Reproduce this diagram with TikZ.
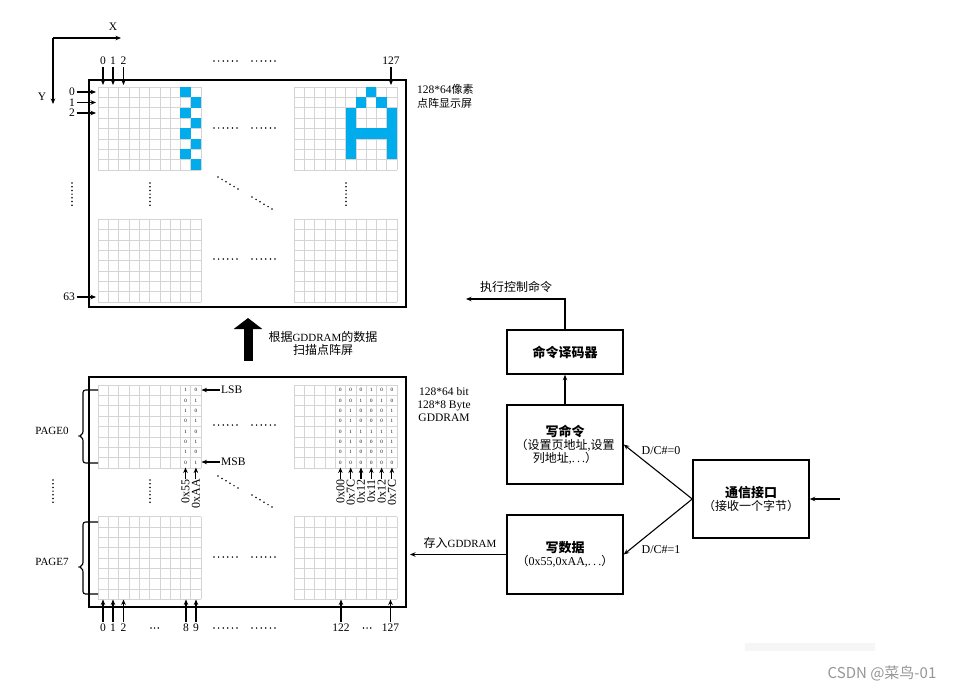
\documentclass[tikz,border=0pt]{standalone}
\usepackage{fontspec}
\setmainfont{Liberation Serif}
\newfontfamily\cjk{Noto Sans CJK SC}
\usetikzlibrary{arrows.meta}
\definecolor{lcdblue}{RGB}{0,172,236}
\definecolor{gridgray}{RGB}{212,212,212}
\definecolor{wmgray}{RGB}{150,150,150}
\newcommand\lcdgrid[2]{%
  \foreach \gi in {0,...,10}{\draw[gridline] (#1+\gi*10.3,#2) -- (#1+\gi*10.3,#2+82.8);}%
  \foreach \gj in {0,...,8}{\draw[gridline] (#1,#2+\gj*10.35) -- (#1+103,#2+\gj*10.35);}}
\newcommand\lcdcell[4]{\fill[lcdblue] (#1+#3*10.3,#2+#4*10.35) rectangle ++(10.3,10.35);}
\newcommand\sdots{.\hspace{2.2pt}.\hspace{2.2pt}.}
\tikzset{
  hdots/.pic={\foreach \i in {0,...,5}{\fill (\i*4.6,0) circle (0.85pt);}},
  tdots/.pic={\foreach \i in {0,...,2}{\fill (\i*3.6,0) circle (0.85pt);}},
  vdots/.pic={\foreach \i in {0,...,6}{\fill (0,\i*3.7) circle (0.85pt);}},
  ddots/.pic={\foreach \i in {0,...,5}{\fill (\i*4,\i*2.4) circle (0.85pt);}},
}
\begin{document}
\begin{tikzpicture}[x=1pt,y=-1pt,
  lbl/.style={font=\fontsize{11.5}{12}\selectfont, inner sep=0pt},
  cj/.style={font=\cjk\fontsize{11}{13.5}\selectfont, inner sep=0pt},
  cjb/.style={font=\cjk\fontsize{12}{14.5}\selectfont, inner sep=0pt},
  bit/.style={font=\fontsize{5}{5}\selectfont, inner sep=0pt},
  hexl/.style={font=\fontsize{12}{12}\selectfont, inner sep=0pt, rotate=90, anchor=east},
  arr/.style={-{Stealth[length=5.5pt,width=4.5pt]}, line width=1.1pt},
  panel/.style={draw, line width=2pt},
  gridline/.style={draw=gridgray, line width=0.5pt},
  box/.style={draw, line width=1.5pt, minimum width=116pt, align=center, inner sep=2pt},
  brace/.style={line width=1.1pt, rounded corners=2.5pt},
]
\useasboundingbox (0,0) rectangle (955,696);
\fill[white] (0,0) rectangle (955,696);

% ---------------- top panel ----------------
\node[panel, minimum width=317pt, minimum height=227pt] (toppanel) at (247.5,193.5) {};
\lcdgrid{98}{87}
\lcdgrid{294}{87}
\lcdgrid{98}{219.2}
\lcdgrid{294}{219.2}
\foreach \c/\r in {8/0,9/1,8/2,9/3,8/4,9/5,8/6,9/7}{\lcdcell{98}{87}{\c}{\r}}
\foreach \c/\r in {5/2,5/3,5/4,5/5,5/6,9/2,9/3,9/4,9/5,9/6,6/1,6/4,7/0,7/4,8/1,8/4}{\lcdcell{294}{87}{\c}{\r}}

% axes
\coordinate (orig) at (53,38);
\coordinate (xend) at (121,38);
\coordinate (yend) at (53,104);
\draw[arr] (orig) -- (xend);
\draw[arr] (orig) -- (yend);
\node[lbl] (xlab) at (113,27) {X};
\node[lbl] (ylab) at (42,97) {Y};

% column labels top
\foreach \n/\x in {0/103,1/113,2/123.5,127/391}{
  \node[lbl] (tc\n) at (\x,61) {\n};
  \draw[arr] (tc\n.south) ++(0,2) -- (\x,85);
}
\pic at (214,61) {hdots};
\pic at (252,61) {hdots};

% row labels
\foreach \n/\y in {0/92,1/102.5,2/113,63/297}{
  \node[lbl, anchor=east] (rl\n) at (75,\y) {\n};
  \draw[arr] (rl\n.east) ++(1.5,0) -- (96,\y);
}

% dots inside top panel
\pic at (214,128) {hdots};
\pic at (252,128) {hdots};
\pic at (214,259) {hdots};
\pic at (252,259) {hdots};
\pic at (150,183) {vdots};
\pic at (346,183) {vdots};
\pic at (72,183) {vdots};
\pic at (218,177) {ddots};
\pic at (252,197) {ddots};

\node[cj, align=left, anchor=north west] (scrlab) at (417,84.5) {{\rmfamily\fontsize{11.5}{13}\selectfont 128*64}像素\\点阵显示屏};

% ---------------- big arrow ----------------
\coordinate (bigS) at (248,361);
\coordinate (bigT) at (248,318);
\draw[line width=9pt, -{Triangle[length=11pt,width=28pt]}] (bigS) -- (bigT);
\node[font=\cjk\fontsize{12}{13.5}\selectfont, align=center, inner sep=0pt] (scanlab) at (323,343.5)
  {根据{\rmfamily\fontsize{11}{12}\selectfont GDDRAM}的数据\\扫描点阵屏};

% ---------------- bottom panel ----------------
\node[panel, minimum width=317pt, minimum height=229.5pt] (botpanel) at (247.5,491.75) {};
\lcdgrid{98}{385}
\lcdgrid{294}{385}
\lcdgrid{98}{516.5}
\lcdgrid{294}{516.5}

% bits in left grid
\foreach \b [count=\r from 0] in {1,0,1,0,1,0,1,0}{
  \node[bit] (bla\r) at (98+8.5*10.3,385+\r*10.35+5.2) {\b};}
\foreach \b [count=\r from 0] in {0,1,0,1,0,1,0,1}{
  \node[bit] (blb\r) at (98+9.5*10.3,385+\r*10.35+5.2) {\b};}
% bits in right grid
\foreach \rowbits [count=\r from 0] in {{0,0,0,1,0,0},{0,0,1,0,1,0},{0,1,0,0,0,1},{0,1,0,0,0,1},{0,1,1,1,1,1},{0,1,0,0,0,1},{0,1,0,0,0,1},{0,0,0,0,0,0}}{
  \foreach \b [count=\c from 4] in \rowbits{
    \node[bit] (br\r\c) at (294+\c*10.3+5.15,385+\r*10.35+5.2) {\b};}}

% LSB / MSB
\node[lbl, anchor=west] (lsb) at (221,390) {LSB};
\draw[arr] (lsb.west) ++(-1,0) -- (201.5,390);
\node[lbl, anchor=west] (msb) at (221,462) {MSB};
\draw[arr] (msb.west) ++(-1,0) -- (201.5,462);

% hex labels
\foreach \h/\x [count=\k] in {0x55/185.5,0xAA/195.9,0x00/340.4,0x7C/350.7,0x12/361.0,0x11/371.3,0x12/381.6,0x7C/391.9}{
  \node[hexl] (hx\k) at (\x,479) {\h};
  \draw[arr] (hx\k.east) -- (\x,467.5);
}

% dots inside bottom panel
\pic at (214,425) {hdots};
\pic at (252,425) {hdots};
\pic at (214,557) {hdots};
\pic at (252,557) {hdots};
\pic at (150,480) {vdots};
\pic at (218,476) {ddots};
\pic at (252,495) {ddots};
\pic at (53,480) {vdots};

% page braces
\draw[brace] (98,390) -- (83,390) -- (83,434) -- (79,436) -- (83,438) -- (83,463) -- (98,463);
\draw[brace] (98,522) -- (83,522) -- (83,565) -- (79,567) -- (83,569) -- (83,594) -- (98,594);
\node[font=\fontsize{11}{12}\selectfont, inner sep=0pt] (page0) at (52,431) {PAGE0};
\node[font=\fontsize{11}{12}\selectfont, inner sep=0pt] (page7) at (52,562) {PAGE7};

% bottom column labels
\foreach \n/\x [count=\k] in {0/103,1/113,2/123.5,8/186,9/196,122/341,127/390.5}{
  \node[lbl] (bc\k) at (\x,628) {\n};
  \draw[arr] (bc\k.north) ++(0,-2) -- (\x,599.5);
}
\pic at (151,628) {tdots};
\pic at (363.5,628) {tdots};
\pic at (214,628) {hdots};
\pic at (252,628) {hdots};

\node[font=\fontsize{11.5}{13}\selectfont, align=center, inner sep=0pt] (gdlab) at (444,405) {128*64 bit\\128*8 Byte\\GDDRAM};

% ---------------- right side blocks ----------------
\node[box, minimum height=44pt] (dec) at (565,352) {\cjk\bfseries\fontsize{13}{15}\selectfont 命令译码器};
\node[box, minimum height=79pt] (wcmd) at (565,444.5)
  {{\cjk\bfseries\fontsize{13}{15}\selectfont 写命令}\\[1pt]{\cjk\fontsize{12}{15}\selectfont （设置页地址{\rmfamily\fontsize{12}{12}\selectfont ,}设置}\\{\cjk\fontsize{12}{15}\selectfont 列地址{\rmfamily\fontsize{12}{12}\selectfont ,\sdots}）}};
\node[box, minimum height=79pt] (wdat) at (565,554.5)
  {{\cjk\bfseries\fontsize{13}{15}\selectfont 写数据}\\[1pt]{\cjk\fontsize{12}{15}\selectfont （{\rmfamily\fontsize{12}{12}\selectfont 0x55,0xAA,\sdots}）}};
\node[box, minimum height=78pt] (comm) at (751,499)
  {{\cjk\bfseries\fontsize{13}{15}\selectfont 通信接口}\\[1pt]{\cjk\fontsize{12}{15}\selectfont （接收一个字节）}};

\coordinate (execend) at (466,299);
\coordinate (inpt) at (840,499);
\coordinate (storeend) at (410,554.5);

\draw[arr] (wcmd.north) -- (dec.south);
\draw[arr] (dec.north) |- (execend);
\node[cjb] (execlab) at (516,287) {执行控制命令};
\draw[arr] (comm.west) -- (wcmd.east);
\draw[arr] (comm.west) -- (wdat.east);
\draw[arr] (inpt) -- (comm.east);
\draw[arr] (wdat.west) -- (storeend);
\node[font=\fontsize{12}{13}\selectfont, inner sep=0pt] (dc0) at (661,451) {D/C\#=0};
\node[font=\fontsize{12}{13}\selectfont, inner sep=0pt] (dc1) at (661,550) {D/C\#=1};
\node[cjb] (storelab) at (460,543) {存入{\rmfamily\fontsize{11}{12}\selectfont GDDRAM}};

% watermark
\fill[gray!7] (745,643) rectangle (875,651);
\node[font=\cjk\fontsize{15}{16}\selectfont, text=wmgray, inner sep=0pt] (wm) at (882,673) {CSDN @菜鸟-01};
\end{tikzpicture}
\end{document}
